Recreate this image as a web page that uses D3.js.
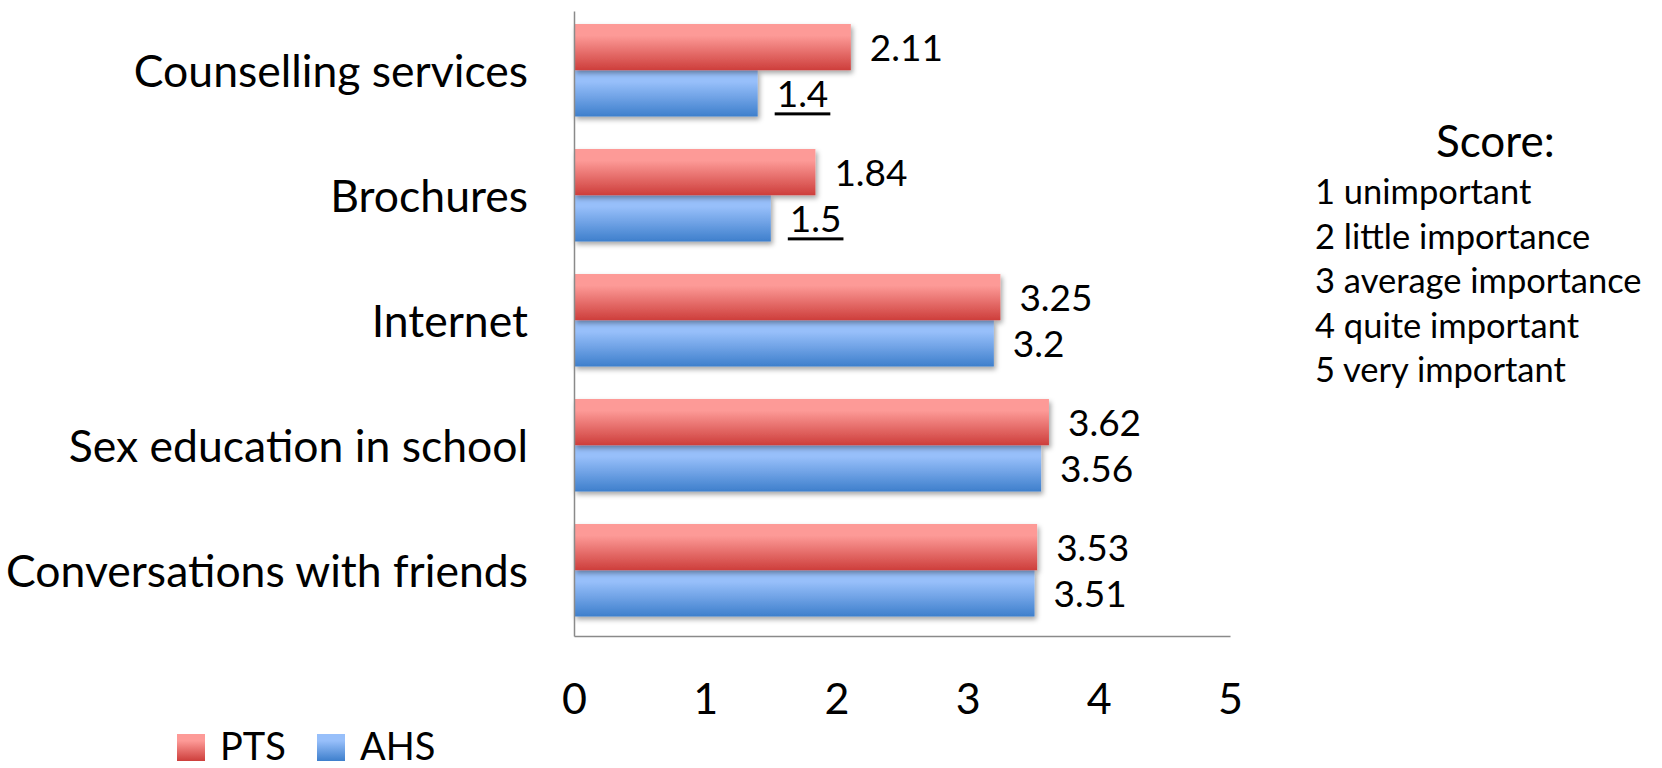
<!DOCTYPE html>
<html>
<head>
<meta charset="utf-8">
<script src="https://cdn.jsdelivr.net/npm/d3@7/dist/d3.min.js"></script>
<style>
  html, body { margin: 0; padding: 0; background: #ffffff; }
  svg { display: block; font-family: Lato, "Open Sans", sans-serif; }
</style>
</head>
<body>
<svg id="chart" width="1662" height="768"></svg>
<script>
// ---- data ----
const categories = ["Counselling services", "Brochures", "Internet", "Sex education in school", "Conversations with friends"];
const seriesNames = ["PTS", "AHS"];
const ptsValues = [2.11, 1.84, 3.25, 3.62, 3.53];
const ahsValues = [1.4, 1.5, 3.2, 3.56, 3.51];
const ptsLabels = ["2.11", "1.84", "3.25", "3.62", "3.53"];
const ahsLabels = ["1.4", "1.5", "3.2", "3.56", "3.51"];
const ahsUnderlined = [true, true, false, false, false];
const xTicks = [0, 1, 2, 3, 4, 5];
const scoreTitle = "Score:";
const scoreLines = ["1 unimportant", "2 little importance", "3 average importance", "4 quite important", "5 very important"];

// ---- layout ----
const svg = d3.select("#chart");
const x = d3.scaleLinear().domain([0, 5]).range([574, 1230]);
const y = d3.scaleBand().domain(categories).range([11, 636])
  .paddingInner(0.26).paddingOuter(0.13).align(0.4);
const sub = d3.scaleBand().domain(seriesNames).range([0, y.bandwidth()]);

const defs = svg.append("defs");
function grad(id, top, bottom) {
  const g = defs.append("linearGradient").attr("id", id)
    .attr("x1", 0).attr("y1", 0).attr("x2", 0).attr("y2", 1);
  g.append("stop").attr("offset", "0%").attr("stop-color", top);
  g.append("stop").attr("offset", "25%").attr("stop-color", top);
  g.append("stop").attr("offset", "100%").attr("stop-color", bottom);
}
grad("gRed", "#fd9a97", "#cd3e3b");
grad("gBlue", "#97bffa", "#3e7fcc");
const colors = { PTS: "url(#gRed)", AHS: "url(#gBlue)" };

const f = defs.append("filter").attr("id", "shadow")
  .attr("x", "-5%").attr("y", "-20%").attr("width", "115%").attr("height", "150%");
f.append("feDropShadow").attr("dx", 2).attr("dy", 3).attr("stdDeviation", 2.5)
  .attr("flood-color", "#000").attr("flood-opacity", 0.35);

// ---- bars ----
const rows = categories.map((c, i) => ({
  cat: c,
  vals: [
    { s: "PTS", v: ptsValues[i], label: ptsLabels[i], u: false },
    { s: "AHS", v: ahsValues[i], label: ahsLabels[i], u: ahsUnderlined[i] }
  ]
}));

const groups = svg.append("g").selectAll("g").data(rows).join("g")
  .attr("transform", d => `translate(0,${y(d.cat)})`);

groups.selectAll("rect.bar").data(d => d.vals.slice().reverse()).join("rect")
  .attr("class", "bar")
  .attr("x", x(0))
  .attr("y", d => sub(d.s))
  .attr("width", d => x(d.v) - x(0))
  .attr("height", sub.bandwidth())
  .attr("fill", d => colors[d.s])
  .attr("filter", "url(#shadow)");

const labels = groups.selectAll("text.val").data(d => d.vals).join("text")
  .attr("class", "val")
  .attr("x", d => x(d.v) + 19)
  .attr("y", d => sub(d.s) + sub.bandwidth() / 2 + 14)
  .attr("font-size", 37)
  .attr("fill", "#000")
  .text(d => d.label);

labels.filter(d => d.u).each(function (d) {
  const bb = this.getBBox();
  d3.select(this.parentNode).append("rect")
    .attr("x", bb.x - 2)
    .attr("y", sub(d.s) + sub.bandwidth() / 2 + 19)
    .attr("width", bb.width + 4)
    .attr("height", 3)
    .attr("fill", "#000");
});

// ---- axes ----
const xAxis = svg.append("g").attr("transform", `translate(0,${y.range()[1]})`)
  .call(d3.axisBottom(x).tickValues(xTicks).tickSize(0).tickSizeOuter(0).tickFormat(d3.format("d")));
xAxis.select(".domain").attr("stroke", "#8a8a8a").attr("stroke-width", 1.5);
xAxis.selectAll(".tick text")
  .attr("font-size", 43).attr("font-family", "Lato, sans-serif").attr("fill", "#000")
  .attr("y", 78).attr("dy", 0);

const yAxis = svg.append("g").attr("transform", `translate(${x(0)},0)`)
  .call(d3.axisLeft(y).tickSize(0).tickSizeOuter(0));
yAxis.select(".domain").attr("stroke", "#8a8a8a").attr("stroke-width", 1.5);
yAxis.selectAll(".tick text")
  .attr("font-size", 44.5).attr("font-family", "Lato, sans-serif").attr("fill", "#000")
  .attr("x", -46).attr("dy", 0).attr("y", 17);

// ---- bottom legend ----
const legend = svg.append("g");
const legItems = legend.selectAll("g").data(seriesNames).join("g")
  .attr("transform", (d, i) => `translate(${177 + i * 140},734)`);
legItems.append("rect").attr("width", 28).attr("height", 27)
  .attr("fill", d => colors[d]);
legItems.append("text").attr("x", 43).attr("y", 26)
  .attr("font-size", 38).attr("fill", "#000").text(d => d);

// ---- score note ----
const note = svg.append("g");
note.append("text").attr("x", 1436).attr("y", 157)
  .attr("font-size", 44).attr("fill", "#000").text(scoreTitle);
note.selectAll("text.line").data(scoreLines).join("text")
  .attr("class", "line")
  .attr("x", 1315)
  .attr("y", (d, i) => 204 + i * 44.5)
  .attr("font-size", 34.5).attr("fill", "#000").text(d => d);
</script>
</body>
</html>
